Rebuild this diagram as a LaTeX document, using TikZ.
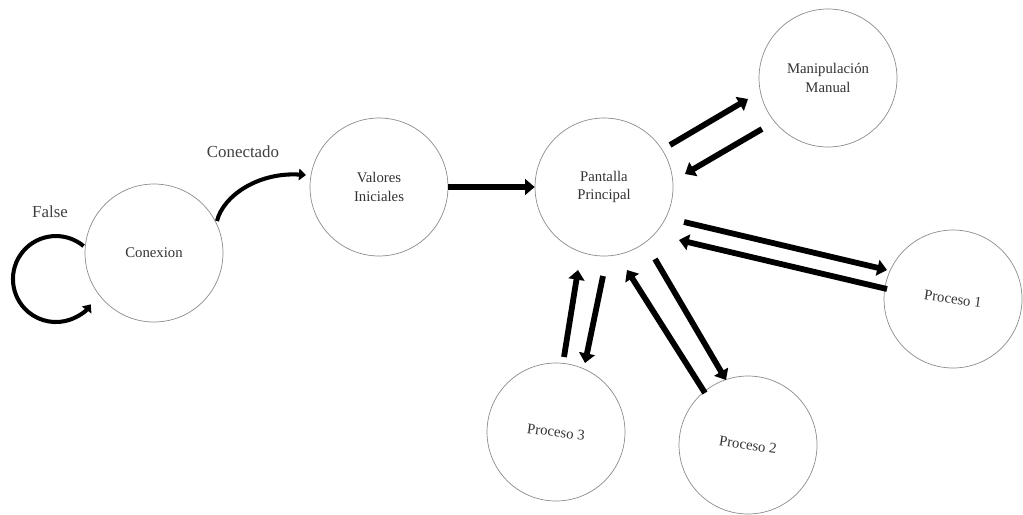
\documentclass[tikz,border=0pt]{standalone}
\usepackage{fontspec}
\setmainfont{Liberation Serif}
\usetikzlibrary{arrows.meta}
\begin{document}
\begin{tikzpicture}[x=0.02cm,y=0.02cm,
  state/.style={circle,draw=black!45,line width=0.4pt,minimum size=2.76cm,inner sep=0pt,
    align=center,text=black!80,font=\fontsize{8.4}{10.5}\selectfont},
  fat/.style={line width=3.3pt,-{Triangle[length=5.5pt,width=9pt]}},
  curv/.style={line width=2.3pt,-{Triangle[length=4pt,width=6.5pt]}},
  lbl/.style={text=black!75,font=\fontsize{9.6}{11}\selectfont}]
\useasboundingbox (0,0) rectangle (1023,-514);
% nodes
\node[state] (con) at (154,-253) {Conexion};
\node[state] (vi) at (379,-187) {Valores\\Iniciales};
\node[state] (pp) at (604,-187) {Pantalla\\Principal};
\node[state] (mm) at (828,-78) {Manipulación\\Manual};
\node[state] (p1) at (953,-299) {};
\node[state] (p3) at (556,-432) {};
\node[state] (p2) at (748,-445) {};
\node[rotate=-8,text=black!80,font=\fontsize{8.4}{10}\selectfont] (t1) at (p1) {Proceso 1};
\node[rotate=-7,text=black!80,font=\fontsize{8.4}{10}\selectfont] (t3) at (p3) {Proceso 3};
\node[rotate=-8,text=black!80,font=\fontsize{8.4}{10}\selectfont] (t2) at (p2) {Proceso 2};
% labels
\node[lbl] (lf) at (50,-212) {False};
\node[lbl] (lc) at (243,-152) {Conectado};
% arrow end points
\coordinate (fs) at (83.6,-246.1);
\coordinate (cs) at (217,-221);
\coordinate (ce) at (306,-175);
\coordinate (a1) at (670,-145);
\coordinate (a2) at (748,-99);
\coordinate (b1) at (762,-129);
\coordinate (b2) at (685,-174);
\coordinate (c1) at (684,-222);
\coordinate (c2) at (887,-270);
\coordinate (d1) at (887,-289);
\coordinate (d2) at (679,-240);
\coordinate (e1) at (655,-259);
\coordinate (e2) at (726,-380);
\coordinate (f1) at (705,-393);
\coordinate (f2) at (627,-270);
\coordinate (g1) at (564,-357);
\coordinate (g2) at (578,-270);
\coordinate (h1) at (603,-276);
\coordinate (h2) at (585,-363);
% connectors
\draw[curv] (fs) arc[start angle=50,end angle=324,radius=43];
\draw[curv] (cs) .. controls (223,-196) and (258,-172) .. (ce);
\draw[fat] (vi.east) -- (pp.west);
\draw[fat] (a1) -- (a2);
\draw[fat] (b1) -- (b2);
\draw[fat] (c1) -- (c2);
\draw[fat] (d1) -- (d2);
\draw[fat] (e1) -- (e2);
\draw[fat] (f1) -- (f2);
\draw[fat] (g1) -- (g2);
\draw[fat] (h1) -- (h2);
\end{tikzpicture}
\end{document}
